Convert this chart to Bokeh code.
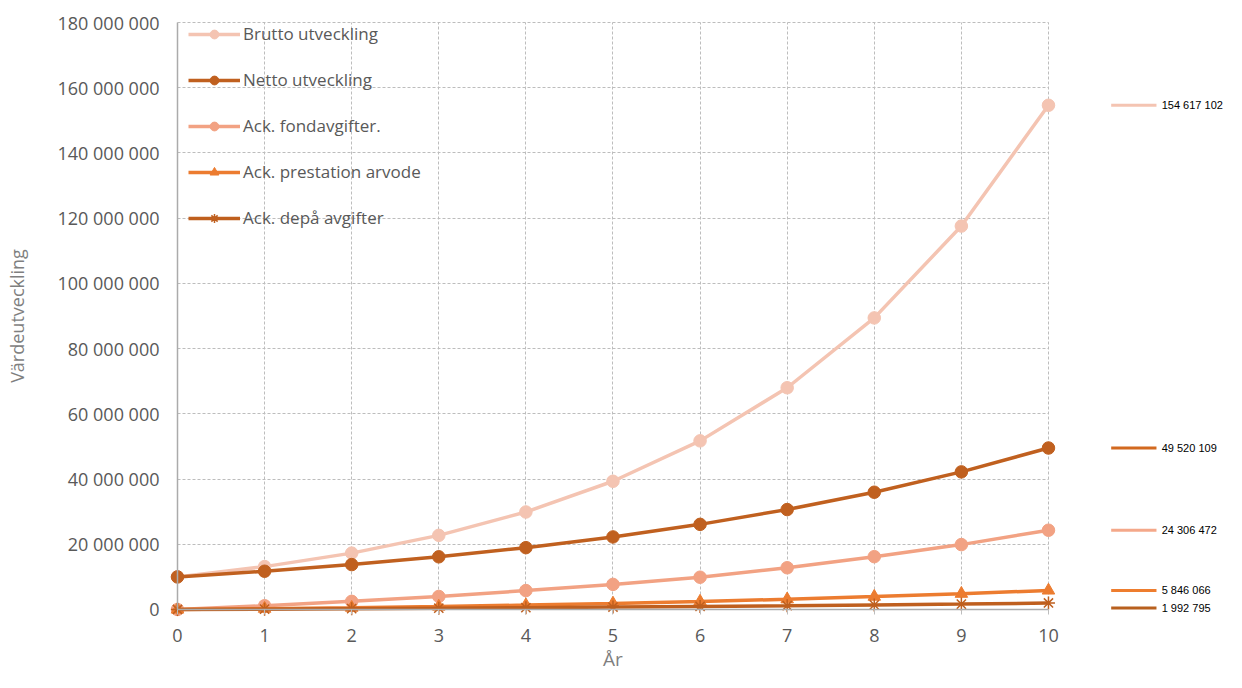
from bokeh.plotting import figure
from bokeh.models import FixedTicker, LinearAxis, Grid, Range1d
from bokeh.core.properties import value
from bokeh.embed import file_html
from bokeh.resources import INLINE

# ---------------- data ----------------
years = [0, 1, 2, 3, 4, 5, 6, 7, 8, 9, 10]
brutto = [10_000_000, 13_150_000, 17_290_000, 22_740_000, 29_900_000, 39_320_000,
          51_710_000, 68_000_000, 89_420_000, 117_580_000, 154_617_102]
netto = [10_000_000, 11_730_000, 13_770_000, 16_160_000, 18_960_000, 22_250_000,
         26_110_000, 30_640_000, 35_960_000, 42_200_000, 49_520_109]
fond = [0, 1_150_000, 2_500_000, 4_000_000, 5_800_000, 7_700_000,
        9_900_000, 12_800_000, 16_200_000, 19_900_000, 24_306_472]
prestation = [0, 250_000, 550_000, 900_000, 1_350_000, 1_850_000,
              2_450_000, 3_150_000, 3_950_000, 4_850_000, 5_846_066]
depa = [0, 100_000, 250_000, 400_000, 550_000, 750_000,
        950_000, 1_150_000, 1_400_000, 1_650_000, 1_992_795]

series_names = ["Brutto utveckling", "Netto utveckling", "Ack. fondavgifter.",
                "Ack. prestation arvode", "Ack. depå avgifter"]
series_values = [brutto, netto, fond, prestation, depa]
series_colors = ["#F4C4B2", "#C0601F", "#F2A283", "#EC7C30", "#BF5F1E"]
series_markers = ["circle", "circle", "circle", "triangle", "asterisk"]
end_label_colors = ["#F4C4B2", "#D2691F", "#F4A88A", "#EE7D2E", "#B8601E"]

y_ticks = [0, 20_000_000, 40_000_000, 60_000_000, 80_000_000, 100_000_000,
           120_000_000, 140_000_000, 160_000_000, 180_000_000]
y_tick_labels = ["0", "20 000 000", "40 000 000", "60 000 000", "80 000 000",
                 "100 000 000", "120 000 000", "140 000 000", "160 000 000", "180 000 000"]

FONT = "Open Sans"
GRAY = "#595959"

p = figure(width=1226, height=672, output_backend="svg", toolbar_location=None,
           x_range=Range1d(-2.032, 12.044), y_range=Range1d(-19.32e6, 186.75e6),
           x_axis_location=None, y_axis_location=None,
           min_border_left=0, min_border_right=0, min_border_top=0, min_border_bottom=0)
p.outline_line_color = None
p.background_fill_color = "white"
# drop the default grids, use grids limited to the data area
p.center = [r for r in p.center if not isinstance(r, Grid)]

xgrid = Grid(dimension=0, ticker=FixedTicker(ticks=years[1:]), cross_bounds=(0, y_ticks[-1]),
             grid_line_color="#bdbdbd", grid_line_dash="3 2", grid_line_width=1)
ygrid = Grid(dimension=1, ticker=FixedTicker(ticks=y_ticks[1:]), cross_bounds=(years[0], years[-1]),
             grid_line_color="#bdbdbd", grid_line_dash="3 2", grid_line_width=1)
p.add_layout(xgrid)
p.add_layout(ygrid)

xaxis = LinearAxis(ticker=FixedTicker(ticks=years), fixed_location=0, bounds=(years[0], years[-1]),
                   axis_label="År")
yaxis = LinearAxis(ticker=FixedTicker(ticks=y_ticks), fixed_location=0, bounds=(0, y_ticks[-1]),
                   axis_label="Värdeutveckling",
                   major_label_overrides={t: l for t, l in zip(y_ticks, y_tick_labels)})
for ax in (xaxis, yaxis):
    ax.axis_line_color = "#ababab"
    ax.axis_line_width = 1.5
    ax.major_tick_line_color = "#bdbdbd"
    ax.minor_tick_line_color = None
    ax.major_label_text_font = FONT
    ax.major_label_text_font_size = "18px"
    ax.major_label_text_color = GRAY
    ax.axis_label_text_font = FONT
    ax.axis_label_text_font_size = "18px"
    ax.axis_label_text_font_style = "normal"
    ax.axis_label_text_color = "#7f7f7f"
xaxis.major_tick_in = 0
xaxis.major_tick_out = 5
xaxis.major_label_standoff = 15
xaxis.axis_label_standoff = 0
xaxis.axis_label_text_font_size = "19px"
yaxis.major_tick_in = 0
yaxis.major_tick_out = 0
yaxis.major_label_standoff = 18
yaxis.axis_label_standoff = 26
p.add_layout(xaxis, "below")
p.add_layout(yaxis, "left")

for name, vals, col, mk in zip(series_names, series_values, series_colors, series_markers):
    p.line(years, vals, line_color=col, line_width=3.5, legend_label=name)
    if mk == "asterisk":
        p.scatter(years, vals, marker=mk, size=13, line_color=col, line_width=1.5, legend_label=name)
    else:
        p.scatter(years, vals, marker=mk, size=12.5, fill_color=col, line_color=col, legend_label=name)

lg = p.legend[0]
lg.location = (188, 443)
lg.border_line_color = None
lg.background_fill_alpha = 0
lg.padding = 0
lg.margin = 0
lg.spacing = 23
lg.glyph_width = 52
lg.glyph_height = 22
lg.label_height = 22
lg.label_standoff = 3
lg.label_text_font = FONT
lg.label_text_font_size = "17px"
lg.label_text_color = GRAY

# end value labels at the right
finals = [v[-1] for v in series_values]
label_y = list(finals)
label_y[-1] = finals[-1] - 1_500_000
label_text = [f"{v:,}".replace(",", " ") for v in finals]
p.segment(x0=10.72, x1=11.24, y0=label_y, y1=label_y, line_color=end_label_colors, line_width=3)
p.text(x=11.30, y=label_y, text=label_text, text_baseline="middle", text_align="left",
       text_font=value("Liberation Sans"), text_font_size="11px", text_color="black")

open("out.html", "w").write(file_html(p, INLINE))
